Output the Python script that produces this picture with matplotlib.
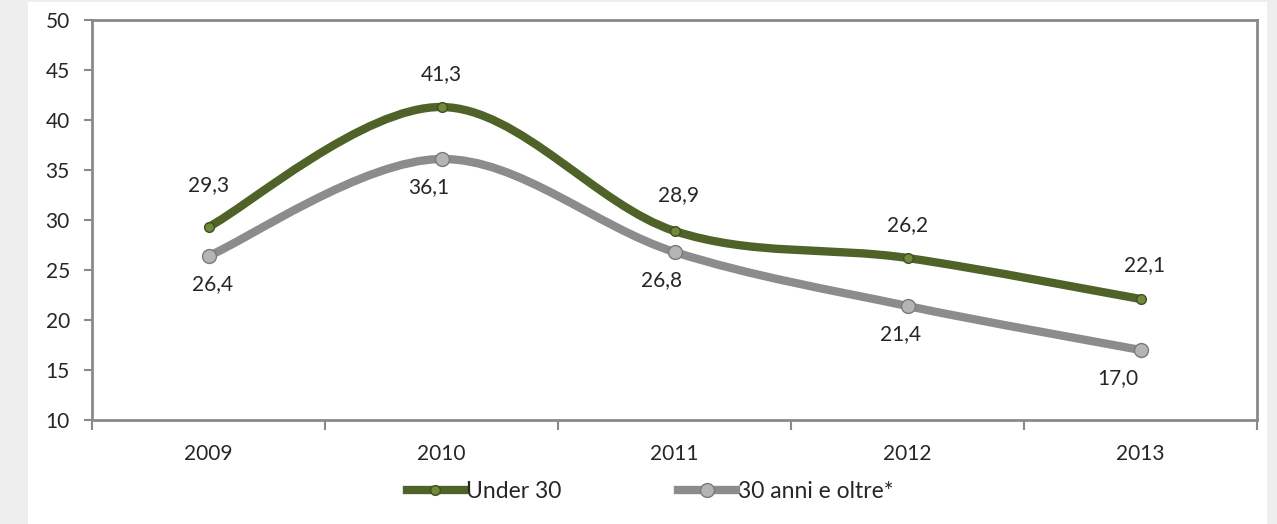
import numpy as np
import matplotlib.pyplot as plt
from matplotlib.path import Path
from matplotlib.patches import PathPatch, Rectangle
from matplotlib.lines import Line2D

plt.rcParams['font.family'] = ['Lato', 'DejaVu Sans']

# data
years = ['2009', '2010', '2011', '2012', '2013']
under30 = [29.3, 41.3, 28.9, 26.2, 22.1]
over30 = [26.4, 36.1, 26.8, 21.4, 17.0]
series_names = ['Under 30', '30 anni e oltre*']

green = '#4f6228'
grey = '#8c8c8c'
txt = '#262626'
spine_c = '#8a8a8a'
fs = 15

W, H = 1277, 524
fig = plt.figure(figsize=(W / 100, H / 100), dpi=100, facecolor='#eeeeee')
fig.patches.append(Rectangle((28 / W, 0), (1267 - 28) / W, (H - 2) / H,
                             transform=fig.transFigure, facecolor='white',
                             edgecolor='none', zorder=-10))
ax = fig.add_axes([92 / W, (H - 420) / H, (1257 - 92) / W, 400 / H])
ax.set_zorder(1)
ax.set_facecolor('white')


def smooth_path(xs, ys):
    # Catmull-Rom style bezier through the data points (like Excel smoothing)
    pts = np.column_stack([xs, ys]).astype(float)
    p = np.vstack([pts[0], pts, pts[-1]])
    verts = [pts[0]]
    codes = [Path.MOVETO]
    for i in range(1, len(p) - 2):
        c1 = p[i] + (p[i + 1] - p[i - 1]) / 6
        c2 = p[i + 1] - (p[i + 2] - p[i]) / 6
        verts += [c1, c2, p[i + 1]]
        codes += [Path.CURVE4] * 3
    return Path(verts, codes)


x = np.arange(len(years))
for vals, col, lw, ms, mfc, mec in [
        (over30, grey, 6.0, 10, '#b4b4b4', '#7a7a7a'),
        (under30, green, 6.0, 7, '#6e8a3a', '#3f4f20')]:
    ax.add_patch(PathPatch(smooth_path(x, vals), facecolor='none', edgecolor=col,
                           lw=lw, capstyle='round', zorder=3))
    ax.plot(x, vals, 'o', ms=ms, mfc=mfc, mec=mec, mew=1, zorder=4)

# data labels
up_dx = [0, 0, 3, 0, 3]
up_dy = [30, 24, 26, 24, 24.5]
dn_dx = [3, -9, -9, -5, -16]
for i in range(len(years)):
    ax.annotate(f'{under30[i]:.1f}'.replace('.', ','), (x[i], under30[i]),
                xytext=(up_dx[i], up_dy[i]), textcoords='offset points',
                ha='center', va='center', fontsize=fs, color=txt)
    ax.annotate(f'{over30[i]:.1f}'.replace('.', ','), (x[i], over30[i]),
                xytext=(dn_dx[i], -20), textcoords='offset points',
                ha='center', va='center', fontsize=fs, color=txt)

ax.set_xlim(-0.5, 4.5)
ax.set_ylim(10, 50)
ax.set_yticks(np.arange(10, 51, 5))
ax.set_xticks(x)
ax.set_xticklabels(years)
ax.set_xticks(np.arange(-0.5, 4.6, 1), minor=True)
ax.tick_params(axis='x', which='major', length=0, pad=17, labelsize=fs, labelcolor=txt)
ax.tick_params(axis='x', which='minor', length=7, width=1.5, color=spine_c, direction='out')
ax.tick_params(axis='y', length=6, width=1.5, color=spine_c, pad=10, labelsize=fs,
               labelcolor=txt)
for s in ax.spines.values():
    s.set_color(spine_c)
    s.set_linewidth(2)

handles = [Line2D([], [], color=green, lw=6, marker='o', ms=7, mfc='#6e8a3a', mec='#3f4f20'),
           Line2D([], [], color=grey, lw=6, marker='o', ms=10, mfc='#b4b4b4', mec='#7a7a7a')]
fig.legend(handles, series_names, loc='center', bbox_to_anchor=(650 / W, (H - 492) / H),
           ncol=2, frameon=False, fontsize=16.5, handlelength=2.5, handletextpad=0.1,
           columnspacing=5.1, labelcolor=txt)

fig.savefig('out.png', dpi=100, facecolor=fig.get_facecolor())
